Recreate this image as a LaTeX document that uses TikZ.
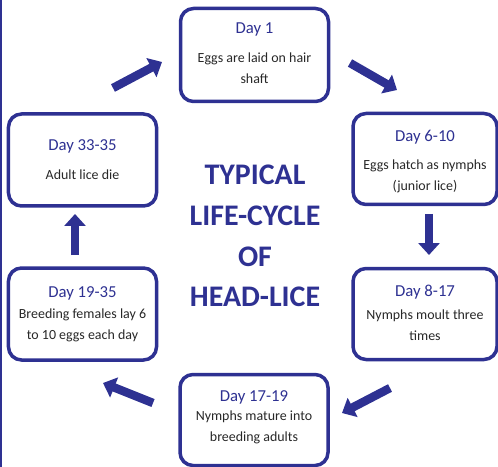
\documentclass[tikz,border=0pt]{standalone}
\usepackage{fontspec}
\setmainfont{Carlito}
\usetikzlibrary{arrows.meta}
\definecolor{lblue}{RGB}{46,49,146}
\definecolor{ltext}{RGB}{40,40,40}
\tikzset{
  stagebox/.style={draw=lblue, line width=3.5bp, rounded corners=13bp, fill=white},
  daylabel/.style={text=lblue, font=\fontsize{16.8}{18}\selectfont, inner sep=0},
  bodytext/.style={text=ltext, font=\fontsize{14}{21}\selectfont, align=center, inner sep=0},
  titletext/.style={text=lblue, font=\fontsize{30}{41}\selectfont\bfseries, align=center, inner sep=0},
  blockarrow/.style={draw=lblue, line width=8.5bp, -{Triangle[length=12bp,width=21bp]}}
}
\begin{document}
\begin{tikzpicture}[x=1bp,y=-1bp]
\useasboundingbox (0,0) rectangle (498,467);
\fill[white] (0,0) rectangle (498,467);
\draw[lblue, line width=1.5bp] (0.75,0) -- (0.75,467);
% boxes
\node[stagebox, minimum width=148bp, minimum height=93bp] (b1) at (254.5,55) {};
\node[stagebox, minimum width=144bp, minimum height=91bp] (b2) at (425,159) {};
\node[stagebox, minimum width=144bp, minimum height=91bp] (b3) at (425,314) {};
\node[stagebox, minimum width=148bp, minimum height=91bp] (b4) at (254,420) {};
\node[stagebox, minimum width=148bp, minimum height=92bp] (b5) at (82.5,314) {};
\node[stagebox, minimum width=148bp, minimum height=92bp] (b6) at (82.5,160) {};
% texts
\node[daylabel] (d1) at (254.5,29) {Day 1};
\node[bodytext] (t1) at (254.5,68) {Eggs are laid on hair\\shaft};
\node[daylabel] (d2) at (425,137) {Day 6-10};
\node[bodytext] (t2) at (425,176) {Eggs hatch as nymphs\\(junior lice)};
\node[daylabel] (d3) at (425,292) {Day 8-17};
\node[bodytext] (t3) at (425,325.5) {Nymphs moult three\\times};
\node[daylabel] (d4) at (254,397) {Day 17-19};
\node[bodytext] (t4) at (254,427.5) {Nymphs mature into\\breeding adults};
\node[daylabel] (d5) at (82.5,293) {Day 19-35};
\node[bodytext] (t5) at (82.5,325.5) {Breeding females lay 6\\to 10 eggs each day};
\node[daylabel] (d6) at (82.5,146) {Day 33-35};
\node[bodytext] (t6) at (82.5,175) {Adult lice die};
\node[titletext] (title) at (255,236) {TYPICAL\\LIFE-CYCLE\\OF\\HEAD-LICE};
% arrows
\coordinate (a1s) at (113,88); \coordinate (a1e) at (162,62);
\coordinate (a2s) at (350,63); \coordinate (a2e) at (397,90);
\coordinate (a3s) at (429,214); \coordinate (a3e) at (429,255);
\coordinate (a4s) at (390,388); \coordinate (a4e) at (342,413);
\coordinate (a5s) at (153,403); \coordinate (a5e) at (103,383);
\coordinate (a6s) at (75,255); \coordinate (a6e) at (75,214);
\draw[blockarrow] (a1s) -- (a1e);
\draw[blockarrow] (a2s) -- (a2e);
\draw[blockarrow] (a3s) -- (a3e);
\draw[blockarrow] (a4s) -- (a4e);
\draw[blockarrow] (a5s) -- (a5e);
\draw[blockarrow] (a6s) -- (a6e);
\end{tikzpicture}
\end{document}
